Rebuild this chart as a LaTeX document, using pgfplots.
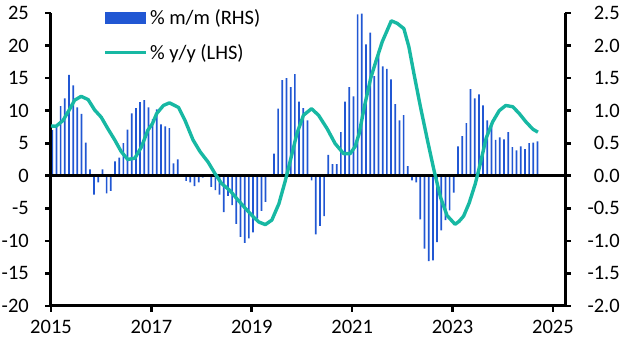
\documentclass[border=0pt]{standalone}
\usepackage{fontspec}
\setmainfont{Carlito}
\usepackage{pgfplots}
\pgfplotsset{compat=1.18}
\usepackage{pgfplotstable}
\definecolor{barblue}{RGB}{33,87,211}
\definecolor{lineteal}{RGB}{23,184,163}

\pgfplotstableread{
m v
0 0.70
1 0.79
2 1.07
3 1.19
4 1.55
5 1.39
6 1.05
7 0.95
8 0.51
9 0.10
10 -0.29
11 -0.10
12 0.10
13 -0.27
14 -0.23
15 0.22
16 0.28
17 0.50
18 0.71
19 0.96
20 1.04
21 1.13
22 1.16
23 1.05
24 0.87
25 1.02
26 0.79
27 0.76
28 0.73
29 0.19
30 0.25
31 0.01
32 -0.08
33 -0.10
34 -0.16
35 -0.10
36 -0.03
37 -0.01
38 -0.17
39 -0.22
40 -0.29
41 -0.56
42 -0.31
43 -0.45
44 -0.74
45 -0.94
46 -1.03
47 -0.96
48 -0.87
49 -0.66
50 -0.54
51 -0.40
52 0.00
53 0.34
54 1.03
55 1.47
56 1.50
57 1.36
58 1.56
59 1.14
60 1.04
61 0.85
62 -0.07
63 -0.90
64 -0.77
65 -0.62
66 0.32
67 0.18
68 0.18
69 0.67
70 1.14
71 1.36
72 1.22
73 2.48
74 2.49
75 2.02
76 2.20
77 1.53
78 1.84
79 1.68
80 1.64
81 1.48
82 1.10
83 0.85
84 0.93
85 0.15
86 -0.07
87 -0.10
88 -0.67
89 -1.12
90 -1.31
91 -1.30
92 -1.02
93 -0.84
94 -0.68
95 -0.53
96 -0.26
97 0.45
98 0.61
99 0.81
100 1.33
101 1.19
102 1.25
103 1.08
104 0.85
105 0.81
106 0.55
107 0.59
108 0.56
109 0.67
110 0.44
111 0.39
112 0.45
113 0.41
114 0.50
115 0.51
116 0.53
}\mmdata

\begin{document}
\begin{tikzpicture}
\pgfplotsset{
  base/.style={
    scale only axis, width=514pt, height=293pt,
    at={(0pt,0pt)}, anchor=south west,
    xmin=2015, xmax=2025.24,
    /pgf/number format/assume math mode=true,
    tick align=outside, major tick length=6pt,
    every tick/.style={black, line width=2.6pt},
    axis line style={black, line width=3pt},
    tick label style={font=\fontsize{20.5}{24}\selectfont},
  }
}
\begin{axis}[base,
  axis y line*=right, axis x line*=bottom,
  ymin=-2, ymax=2.5,
  ytick={-2,-1.5,-1,-0.5,0,0.5,1,1.5,2,2.5},
  yticklabel style={/pgf/number format/fixed, /pgf/number format/fixed zerofill,
    /pgf/number format/precision=1},
  every y tick label/.append style={anchor=east, inner sep=0pt, xshift=49pt},
  xtick={2015,2017,2019,2021,2023,2025},
  xticklabel style={/pgf/number format/1000 sep={}},
  every x tick label/.append style={yshift=-5pt},
]
\addplot[ybar, bar width=1.7pt, bar shift=0pt, fill=barblue, draw=none]
  table[x expr=2015.025+\thisrow{m}/12, y=v]{\mmdata};
\draw[black, line width=3pt] (axis cs:2015,0) -- (axis cs:2025.24,0);
\end{axis}
\begin{axis}[base,
  axis y line*=left, axis x line=none,
  ymin=-20, ymax=25,
  ytick={-20,-15,-10,-5,0,5,10,15,20,25},
  every y tick label/.append style={anchor=east, inner sep=0pt, xshift=-16pt},
  legend style={at={(0.102,1.018)}, anchor=north west, draw=none, fill=none,
    font=\fontsize{20.5}{24}\selectfont, row sep=14pt, inner sep=0pt,
    nodes={inner sep=2pt}},
  legend cell align=left,
]
\addlegendimage{legend image code/.code={\fill[barblue] (0pt,-5.5pt) rectangle (40pt,5.5pt);}}
\addlegendentry{\% m/m (RHS)}
\addplot[lineteal, line width=3.4pt, line join=round,
  legend image code/.code={\draw[lineteal, line width=3.4pt] (0pt,0pt) -- (41pt,0pt);}]
coordinates {
(2015.00,7.65) (2015.10,7.6) (2015.24,8.5) (2015.37,10.2) (2015.47,11.6)
(2015.60,12.2) (2015.74,11.7) (2015.87,10.1) (2016.00,9.0) (2016.135,7.2)
(2016.27,5.5) (2016.40,3.7) (2016.53,2.5) (2016.67,2.7) (2016.80,4.4)
(2016.93,7.0) (2017.02,8.0) (2017.105,9.55) (2017.24,10.8) (2017.36,11.2)
(2017.54,10.5) (2017.67,8.5) (2017.83,5.5) (2017.97,3.7) (2018.13,2.1)
(2018.27,0.3) (2018.40,-1.2) (2018.57,-2.3) (2018.70,-3.5) (2018.86,-4.9)
(2019.03,-6.3) (2019.14,-7.1) (2019.27,-7.5) (2019.40,-6.8) (2019.54,-4.3)
(2019.67,-0.7) (2019.77,2.4) (2019.90,6.5) (2020.03,9.3) (2020.19,10.3)
(2020.33,9.3) (2020.50,7.25) (2020.66,4.95) (2020.83,3.4) (2020.96,3.4)
(2021.06,4.5) (2021.14,6.5) (2021.24,10.5) (2021.37,15.0) (2021.47,17.5)
(2021.60,20.6) (2021.78,23.8) (2021.90,23.4) (2022.03,22.6) (2022.13,19.8)
(2022.23,15.7) (2022.36,10.6) (2022.50,5.45) (2022.63,0.85) (2022.76,-3.3)
(2022.89,-6.1) (2023.05,-7.45) (2023.13,-7.0) (2023.22,-6.2) (2023.33,-4.2)
(2023.45,-1.3) (2023.55,1.8) (2023.67,5.8) (2023.80,8.3) (2023.93,10.0)
(2024.06,10.8) (2024.20,10.6) (2024.33,9.55) (2024.46,8.3) (2024.60,7.15)
(2024.70,6.7)
};
\addlegendentry{\% y/y (LHS)}
\end{axis}
\path (-51pt,-47pt) rectangle (576pt,306pt);
\end{tikzpicture}
\end{document}
